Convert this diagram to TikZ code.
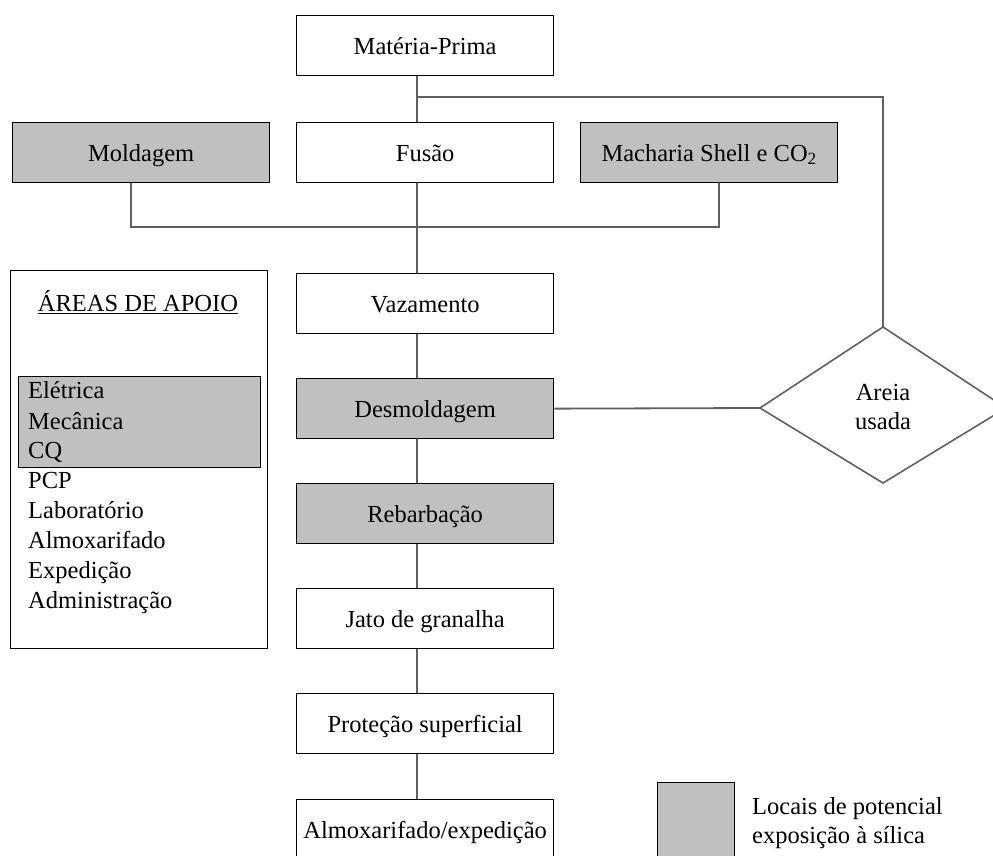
\documentclass[tikz,border=0pt]{standalone}
\usepackage{fontspec}
\setmainfont{Liberation Serif}
\usetikzlibrary{calc}
\begin{document}
\begin{tikzpicture}[x=1pt,y=-1pt,
  every node/.style={font=\fontsize{24.5}{29}\selectfont},
  box/.style={draw=black,line width=1.3pt,fill=white,rectangle,minimum width=257pt,minimum height=60pt,inner sep=0pt,text height=19pt,text depth=2pt,anchor=north west},
  grey/.style={box,fill=silicagray},
  conn/.style={draw=linegray,line width=1.8pt},
  lst/.style={anchor=west,inner sep=0pt,text height=16pt,text depth=4pt}
]
\definecolor{silicagray}{HTML}{C0C0C0}
\definecolor{linegray}{HTML}{606060}
\clip (0,0) rectangle (993,856);
\fill[white] (0,0) rectangle (993,856);

% boxes
\node[box]  (mp)    at (296,15)  {Matéria-Prima};
\node[grey] (mold)  at (12,122)  {Moldagem};
\node[box]  (fus)   at (296,122) {Fusão};
\node[grey] (mach)  at (580,122) {Macharia Shell e CO\textsubscript{2}};
\node[box]  (vaz)   at (296,273) {Vazamento};
\node[grey] (desm)  at (296,378) {Desmoldagem};
\node[grey] (reb)   at (296,483) {Rebarbação};
\node[box]  (jato)  at (296,588) {Jato de granalha};
\node[box]  (prot)  at (296,693) {Proteção superficial};
\node[box]  (almox) at (296,799) {Almoxarifado/expedição};

% diamond
\coordinate (dT) at (883,327);
\coordinate (dR) at (1006,408);
\coordinate (dB) at (883,483);
\coordinate (dL) at (760,408);
\draw[draw=linegray,line width=1.6pt,fill=white] (dT) -- (dR) -- (dB) -- (dL) -- cycle;
\node[align=center,inner sep=0pt] (areia) at (883,407) {Areia\\usada};

% connectors
\coordinate (j1) at (416,97);
\coordinate (rt) at (883,97);
\coordinate (hb) at (416,227);
\draw[conn] ([xshift=-8pt]mp.south) -- ([xshift=-8pt]fus.north);
\draw[conn] (j1) -- (rt) -- (dT);
\draw[conn] ([xshift=-8pt]fus.south) -- ([xshift=-8pt]vaz.north);
\draw[conn] ([xshift=-10pt]mold.south) |- (hb) -| ([xshift=10pt]mach.south);
\draw[conn] ([xshift=-8pt]vaz.south) -- ([xshift=-8pt]desm.north);
\draw[conn] ([xshift=-8pt]desm.south) -- ([xshift=-8pt]reb.north);
\draw[conn] ([xshift=-8pt]reb.south) -- ([xshift=-8pt]jato.north);
\draw[conn] ([xshift=-8pt]jato.south) -- ([xshift=-8pt]prot.north);
\draw[conn] ([xshift=-8pt]prot.south) -- ([xshift=-8pt]almox.north);
\draw[conn] (desm.east) -- (dL);

% support areas
\node[draw=black,line width=1.3pt,rectangle,minimum width=257pt,minimum height=378pt,inner sep=0pt,anchor=north west] (apoio) at (10,270) {};
\node[inner sep=0pt] (tit) at (138,302) {\underline{ÁREAS DE APOIO}};
\node[draw=black,line width=1.3pt,fill=silicagray,rectangle,minimum width=242pt,minimum height=91pt,inner sep=0pt,anchor=north west] (gbox) at (18,376) {};
\node[lst] (l1) at (28,392) {Elétrica};
\node[lst] (l2) at (28,423) {Mecânica};
\node[lst] (l3) at (28,452) {CQ};
\node[lst] (l4) at (28,482) {PCP};
\node[lst] (l5) at (28,512) {Laboratório};
\node[lst] (l6) at (28,542) {Almoxarifado};
\node[lst] (l7) at (28,572) {Expedição};
\node[lst] (l8) at (28,602) {Administração};

% legend
\node[draw=black,line width=1.3pt,fill=silicagray,rectangle,minimum width=77pt,minimum height=80pt,inner sep=0pt,anchor=north west] (leg) at (657,782) {};
\node[anchor=north west,align=left,inner sep=0pt] (legt) at (752,797) {Locais de potencial\\exposição à sílica};
\end{tikzpicture}
\end{document}
